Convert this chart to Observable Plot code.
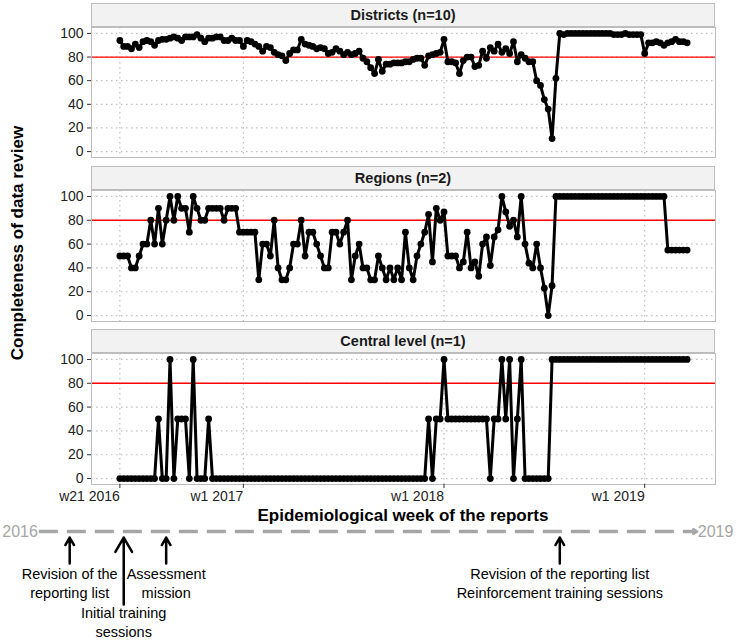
<!DOCTYPE html>
<html>
<head>
<meta charset="utf-8">
<script src="https://cdn.jsdelivr.net/npm/d3@7"></script>
<script src="https://cdn.jsdelivr.net/npm/@observablehq/plot@0.6"></script>
<style>
  html, body { margin: 0; padding: 0; background: #fff; }
  #chart { position: relative; width: 740px; height: 643px; overflow: hidden;
           font-family: "Liberation Sans", Arial, sans-serif; }
  #chart svg { position: absolute; left: 0; overflow: visible; }
  .strip { position: absolute; left: 91px; width: 624px; height: 24px; box-sizing: border-box;
           background: #f2f2f2; border: 1px solid #bdbdbd; text-align: center;
           font-weight: bold; font-size: 14.5px; line-height: 22px; color: #1a1a1a; }
  .ytitle { position: absolute; left: -182px; top: 233px; width: 400px; height: 20px; line-height: 20px;
            text-align: center; font-weight: bold; font-size: 17px; color: #000;
            transform: rotate(-90deg); }
  .xtitle { position: absolute; left: 91px; top: 505px; width: 624px; line-height: 22px;
            text-align: center; font-weight: bold; font-size: 17px; color: #000; }
</style>
</head>
<body>
<div id="chart"></div>
<script>
// ---------------- data ----------------
const facetTitles = ["Districts (n=10)", "Regions (n=2)", "Central level (n=1)"];

const districts = [94,89,89,87,91,88,93,94,93,90, 94,95,95,96,97,96,94,97,97,97,
  99,96,93,96,96,97,97,94,94,96, 94,94,89,94,93,91,89,85,89,88,
  84,82,81,77,83,86,86,95,91,90, 89,87,88,87,83,84,87,85,82,84,
  82,83,85,79,76,71,66,78,68,74, 74,75,75,75,76,76,78,79,79,73,
  81,82,83,84,95,76,76,75,66,77, 80,80,72,73,85,79,88,85,91,84,
  87,83,93,76,82,79,76,76,60,56, 44,36,11,62,100,99,100,100,100,100,
  100,100,100,100,100,100,100,100,99,99, 99,100,99,99,99,99,83,92,92,93,
  92,90,92,93,95,93,93,92];

const regions = [50,50,50,40,40,50,60,60,80,60, 90,60,80,100,80,100,90,90,70,100,
  90,80,80,90,90,90,90,80,90,90, 90,70,70,70,70,70,30,60,60,50,
  80,40,30,30,40,60,60,80,50,70, 70,60,50,40,40,70,70,60,70,80,
  30,50,60,40,40,30,30,50,40,30, 40,30,40,30,70,40,30,50,60,70,
  85,45,90,80,87,50,50,50,40,45, 70,40,45,33,60,66,42,66,72,100,
  87,75,80,66,100,60,44,40,60,40, 23,0,25,100,100,100,100,100,100,100,
  100,100,100,100,100,100,100,100,100,100, 100,100,100,100,100,100,100,100,100,100,
  100,100,55,55,55,55,55,55];

const central = [0,0,0,0,0,0,0,0,0,0, 50,0,0,100,0,50,50,50,0,100,
  0,0,0,50,0,0,0,0,0,0, 0,0,0,0,0,0,0,0,0,0,
  0,0,0,0,0,0,0,0,0,0, 0,0,0,0,0,0,0,0,0,0,
  0,0,0,0,0,0,0,0,0,0, 0,0,0,0,0,0,0,0,0,0,
  50,0,50,50,100,50,50,50,50,50, 50,50,50,50,50,50,0,50,50,100,
  50,100,0,50,100,0,0,0,0,0, 0,0,100,100,100,100,100,100,100,100,
  100,100,100,100,100,100,100,100,100,100, 100,100,100,100,100,100,100,100,100,100,
  100,100,100,100,100,100,100,100];

// week index 0 = w21 2016
const tickWeeks = [0, 32, 84, 136];
const tickLabels = ["w21 2016", "w1 2017", "w1 2018", "w1 2019"];
const yTicks = [0, 20, 40, 60, 80, 100];
const threshold = 80;

// timeline of interventions (in the same week units)
const timelineYears = ["2016", "2019"];
const timelineSpan = [-21, 149.5];
const events = [
  {week: -13, label: "Revision of the\nreporting list", row: 0},
  {week: 1, label: "Initial training\nsessions", row: 1},
  {week: 12, label: "Assessment\nmission", row: 0},
  {week: 114, label: "Revision of the reporting list\nReinforcement training sessions", row: 0}
];

// ---------------- layout ----------------
const W = 740, mL = 91, mR = 25;
const xDomain = [-7.35, 154.35];
const chart = document.getElementById("chart");
const fontMain = "'Liberation Sans', Arial, sans-serif";
const fontNarrow = "'Liberation Sans Narrow', 'Arial Narrow', 'Liberation Sans', Arial, sans-serif";

const panels = [
  {values: districts, stripTop: 3, top: 27, h: 130},
  {values: regions, stripTop: 166, top: 190, h: 131},
  {values: central, stripTop: 329, top: 353, h: 131, xAxis: true}
];

panels.forEach((p, k) => {
  const data = p.values.map((v, i) => ({week: i, value: v}));
  const mb = p.xAxis ? 26 : 1;
  const svg = Plot.plot({
    width: W, height: p.h + 1 + mb,
    marginLeft: mL, marginRight: mR, marginTop: 1, marginBottom: mb,
    style: {fontFamily: fontMain, fontSize: "14px", color: "#333", background: "transparent", overflow: "visible"},
    x: {domain: xDomain, axis: p.xAxis ? undefined : null},
    y: {domain: [-5, 105]},
    marks: [
      Plot.gridX(tickWeeks, {stroke: "#bfbfbf", strokeOpacity: 1, strokeDasharray: "1.5,3.5", strokeWidth: 1.2}),
      Plot.gridY(yTicks, {stroke: "#bfbfbf", strokeOpacity: 1, strokeDasharray: "1.5,3.5", strokeWidth: 1.2}),
      Plot.ruleY([threshold], {stroke: "#ff0000", strokeWidth: 1.3}),
      Plot.line(data, {x: "week", y: "value", stroke: "#000", strokeWidth: 3, strokeLinejoin: "round"}),
      Plot.dot(data, {x: "week", y: "value", fill: "#000", r: 3.4}),
      Plot.frame({stroke: "#bdbdbd"}),
      Plot.axisY(yTicks, {tickSize: 4, tickPadding: 4, label: null, fontSize: 14, fill: "#222", stroke: "#333"}),
      p.xAxis ? Plot.axisX(tickWeeks, {tickSize: 4, tickPadding: 3, label: null, fontSize: 14, fill: "#222", stroke: "#333",
        textAnchor: "end", tickFormat: d => tickLabels[tickWeeks.indexOf(d)]}) : null
    ]
  });
  svg.style.top = (p.top - 1) + "px";
  chart.appendChild(svg);
  const strip = document.createElement("div");
  strip.className = "strip";
  strip.style.top = p.stripTop + "px";
  strip.textContent = facetTitles[k];
  chart.appendChild(strip);
});

const yt = document.createElement("div");
yt.className = "ytitle";
yt.textContent = "Completeness of data review";
chart.appendChild(yt);

const xt = document.createElement("div");
xt.className = "xtitle";
xt.textContent = "Epidemiological week of the reports";
chart.appendChild(xt);

// timeline drawn in the same x scale
const lineY = 13, arrowTop = 19;
const rowArrowBottom = [45, 86], rowText = [64, 103];
const tl = {start: timelineSpan[0], end: timelineSpan[1]};
const timeline = Plot.plot({
  width: W, height: 125, marginLeft: mL, marginRight: mR, marginTop: 0, marginBottom: 0,
  style: {fontFamily: fontNarrow, background: "transparent", overflow: "visible"},
  x: {domain: xDomain, axis: null},
  y: {domain: [0, 125], range: [0, 125], axis: null},
  marks: [
    Plot.link([tl], {x1: "start", x2: d => d.end - 1.5, y1: lineY, y2: lineY, stroke: "#a6a6a6", strokeWidth: 3.5, strokeDasharray: "19,9"}),
    Plot.arrow([tl], {x1: d => d.end - 3, x2: "end", y1: lineY, y2: lineY, stroke: "#a6a6a6", strokeWidth: 3, headLength: 13}),
    Plot.text([tl], {x: "start", y: lineY, text: () => timelineYears[0], textAnchor: "end", dx: -1, fontSize: 16, fill: "#a6a6a6"}),
    Plot.text([tl], {x: "end", y: lineY, text: () => timelineYears[1], textAnchor: "start", dx: 1, fontSize: 16, fill: "#a6a6a6"}),
    Plot.arrow(events, {x1: "week", x2: "week", y1: d => rowArrowBottom[d.row], y2: arrowTop, stroke: "#000", strokeWidth: 2.5, headLength: 10}),
    Plot.text(events, {x: "week", y: d => rowText[d.row], text: "label", fontSize: 14.5, lineHeight: 1.33, fill: "#000"})
  ]
});
timeline.style.top = "518px";
chart.appendChild(timeline);
</script>
</body>
</html>
